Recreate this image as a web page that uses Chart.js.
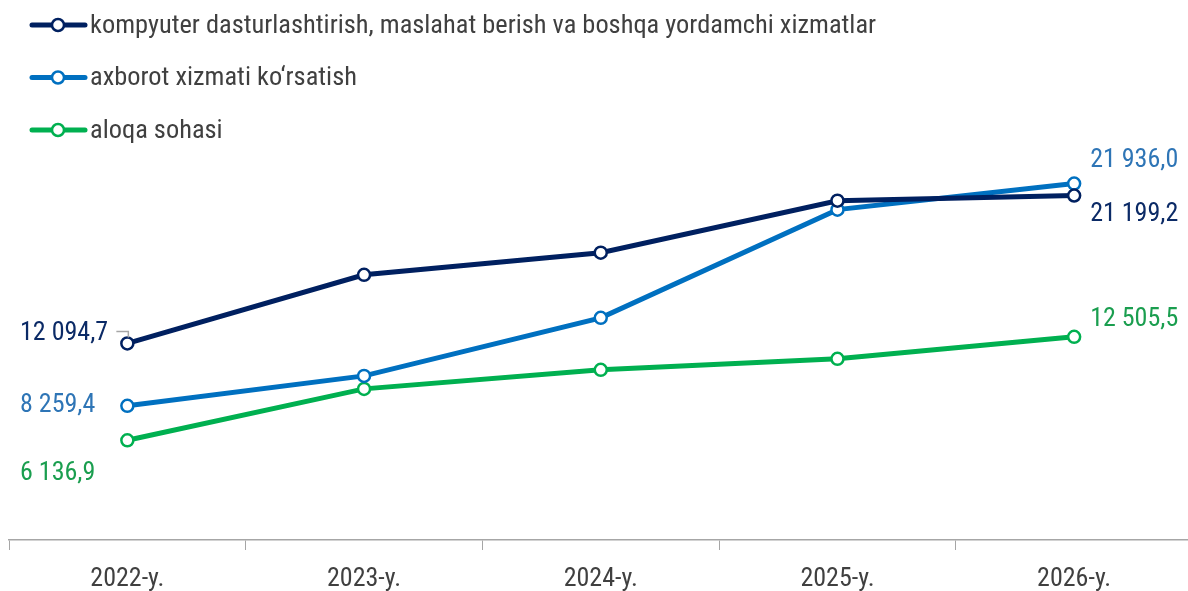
<!DOCTYPE html>
<html>
<head>
<meta charset="utf-8">
<script src="https://cdn.jsdelivr.net/npm/chart.js@4/dist/chart.umd.min.js"></script>
<style>
  html, body { margin: 0; padding: 0; background: #fff; overflow: hidden; }
  #wrap { width: 1201px; height: 591px; }
</style>
</head>
<body>
<div id="wrap"><canvas id="chart"></canvas></div>
<script>
// ma'lumotlar
const categories = ['2022-y.', '2023-y.', '2024-y.', '2025-y.', '2026-y.'];
const seriesNames = [
    'kompyuter dasturlashtirish, maslahat berish va boshqa yordamchi xizmatlar',
    'axborot xizmati ko‘rsatish',
    'aloqa sohasi'
];
const kompyuter = [12094.7, 16320, 17680, 20880, 21199.2];
const axborot = [8259.4, 10100, 13670, 20330, 21936.0];
const aloqa = [6136.9, 9300, 10470, 11150, 12505.5];

const lineColors = ['#002060', '#0070c0', '#00b050'];
const labelColors = ['#0b2a66', '#2e75b6', '#1a9e4f'];
const FONT = "'Roboto Condensed', 'Liberation Sans Narrow', 'Arial Narrow', Roboto, sans-serif";

function fmt(v) {
    let parts = v.toFixed(1).split('.');
    let int = parts[0].replace(/\B(?=(\d{3})+(?!\d))/g, ' ');
    return int + ',' + parts[1];
}

// legend chizish
const legendPlugin = {
    id: 'customLegend',
    afterDraw(chart) {
        const ctx = chart.ctx;
        ctx.save();
        chart.data.datasets.forEach(function (ds, i) {
            const y = 25 + i * 52.5;
            ctx.strokeStyle = ds.borderColor;
            ctx.lineWidth = 5;
            ctx.lineCap = 'round';
            ctx.beginPath();
            ctx.moveTo(32, y);
            ctx.lineTo(85, y);
            ctx.stroke();
            ctx.beginPath();
            ctx.arc(58, y, 6, 0, Math.PI * 2);
            ctx.fillStyle = '#fff';
            ctx.fill();
            ctx.lineWidth = 2.5;
            ctx.stroke();
            ctx.fillStyle = '#404040';
            ctx.font = '26.4px ' + FONT;
            ctx.textAlign = 'left';
            ctx.textBaseline = 'middle';
            ctx.fillText(ds.label, 90, y + 1);
        });
        ctx.restore();
    }
};

// boshi va oxiridagi qiymatlar
const labelOffsets = [
    { first: -10, last: 19 },
    { first: 0, last: -23 },
    { first: 33, last: -17 }
];
const valuePlugin = {
    id: 'valueLabels',
    afterDatasetsDraw(chart) {
        const ctx = chart.ctx;
        ctx.save();
        ctx.font = '26px ' + FONT;
        ctx.textBaseline = 'middle';
        chart.data.datasets.forEach(function (ds, i) {
            const pts = chart.getDatasetMeta(i).data;
            const p0 = pts[0], pn = pts[pts.length - 1];
            ctx.fillStyle = labelColors[i];
            ctx.textAlign = 'left';
            ctx.fillText(fmt(ds.data[0]), 20, p0.y + labelOffsets[i].first);
            ctx.fillText(fmt(ds.data[ds.data.length - 1]), pn.x + 16, pn.y + labelOffsets[i].last);
            if (i === 0) {
                ctx.strokeStyle = '#a6a6a6';
                ctx.lineWidth = 1.5;
                ctx.beginPath();
                ctx.moveTo(p0.x - 11, p0.y - 12);
                ctx.lineTo(p0.x + 1, p0.y - 12);
                ctx.lineTo(p0.x + 1, p0.y - 6);
                ctx.stroke();
            }
        });
        ctx.restore();
    }
};

const allData = [kompyuter, axborot, aloqa];
const datasets = allData.map(function (d, i) {
    return {
        label: seriesNames[i],
        data: d,
        borderColor: lineColors[i],
        backgroundColor: '#fff',
        borderWidth: 5,
        pointRadius: 6,
        pointBorderWidth: 2.5,
        pointBackgroundColor: '#fff',
        pointBorderColor: lineColors[i],
        tension: 0
    };
});

new Chart(document.getElementById('chart'), {
    type: 'line',
    data: { labels: categories, datasets: datasets },
    plugins: [valuePlugin, legendPlugin],
    options: {
        responsive: true,
        maintainAspectRatio: false,
        animation: false,
        layout: { padding: { top: 150, left: 9, right: 0, bottom: 0 } },
        plugins: {
            legend: { display: false },
            tooltip: { enabled: false }
        },
        scales: {
            x: {
                offset: true,
                afterFit: function (scale) { scale.height = 51; },
                grid: {
                    offset: true,
                    drawOnChartArea: false,
                    drawTicks: true,
                    tickLength: 10,
                    color: '#a6a6a6'
                },
                border: { color: '#a6a6a6', width: 1.5 },
                ticks: {
                    color: '#404040',
                    font: { family: FONT, size: 26 },
                    padding: 14
                }
            },
            y: {
                display: false,
                min: 0,
                max: 24000
            }
        }
    }
});
</script>
</body>
</html>
